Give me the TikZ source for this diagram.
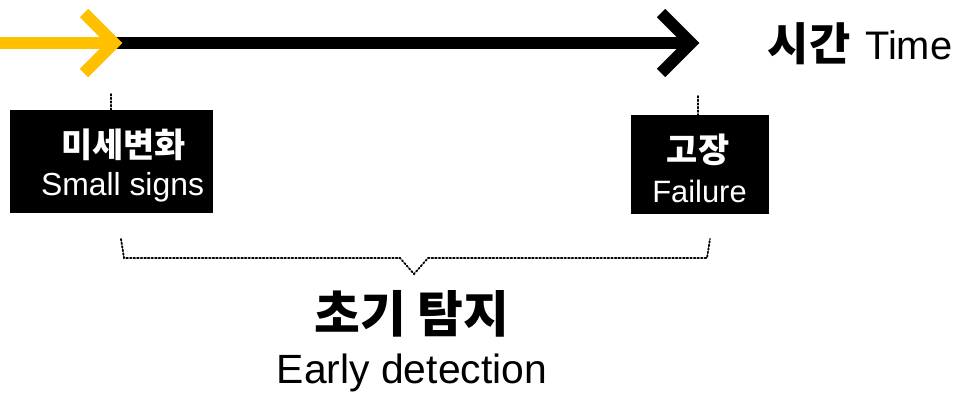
\documentclass[tikz,border=0pt]{standalone}
\usepackage{fontspec}
\setmainfont{Liberation Sans}
\newfontfamily\kr{Noto Sans CJK KR}
\definecolor{amber}{HTML}{FFC000}
\begin{document}
\begin{tikzpicture}[x=1bp,y=-1bp,
  thick line/.style={line width=12bp},
  chev/.style={line width=12bp,line join=miter,line cap=butt},
  tick/.style={line width=1.6bp,dotted,line cap=round},
  darkbox/.style={fill=black,inner sep=0pt},
  krbox/.style={text=white,inner sep=0pt,font=\kr\bfseries\fontsize{34}{40}\selectfont},
  enbox/.style={text=white,inner sep=0pt,anchor=base},
]
\useasboundingbox (0,0) rectangle (979,394);
% arrows
\coordinate (ys) at (0,43);
\coordinate (ye) at (116,43);
\coordinate (be) at (690,43);
\draw[thick line,amber] (ys) -- (ye);
\draw[thick line,black] (ye) -- (be);
\draw[chev,amber] (84,13) -- (114,43) -- (84,73);
\draw[chev,black] (661,13) -- (691,43) -- (661,73);
\node[inner sep=0pt,font=\kr\bfseries\fontsize{45}{50}\selectfont] (timekr) at (809,44) {시간};
\node[anchor=base west,inner sep=0pt,font=\fontsize{40}{48}\selectfont] (time) at (865,59) {Time};
% boxes
\node[darkbox,minimum width=203bp,minimum height=103bp] (b1) at (111.5,161.5) {};
\node[krbox] (t1) at (123.5,145) {미세변화};
\node[enbox,font=\fontsize{32}{38}\selectfont] (s1) at (122.5,195) {Small signs};
\node[darkbox,minimum width=138bp,minimum height=99bp] (b2) at (700,164.5) {};
\node[krbox] (t2) at (698,149.5) {고장};
\node[enbox,font=\fontsize{31}{38}\selectfont] (s2) at (699.5,202) {Failure};
% dotted ticks
\coordinate (k1) at (111,94);
\coordinate (k2) at (698,96);
\draw[tick] (k1) -- (k1 |- b1.north);
\draw[tick] (k2) -- (k2 |- b2.north);
% brace
\draw[tick,line width=1.8bp] (121,239) -- (124,258) -- (400,258) -- (414,274) -- (428,258) -- (707,258) -- (710,239);
% bottom labels
\node[inner sep=0pt] (early) at (412,314) {\kr\bfseries\fontsize{50}{56}\selectfont 초기 탐지};
\node[inner sep=0pt] (earlyen) at (412,373) {\fontsize{41}{48}\selectfont Early detection};
\end{tikzpicture}
\end{document}
